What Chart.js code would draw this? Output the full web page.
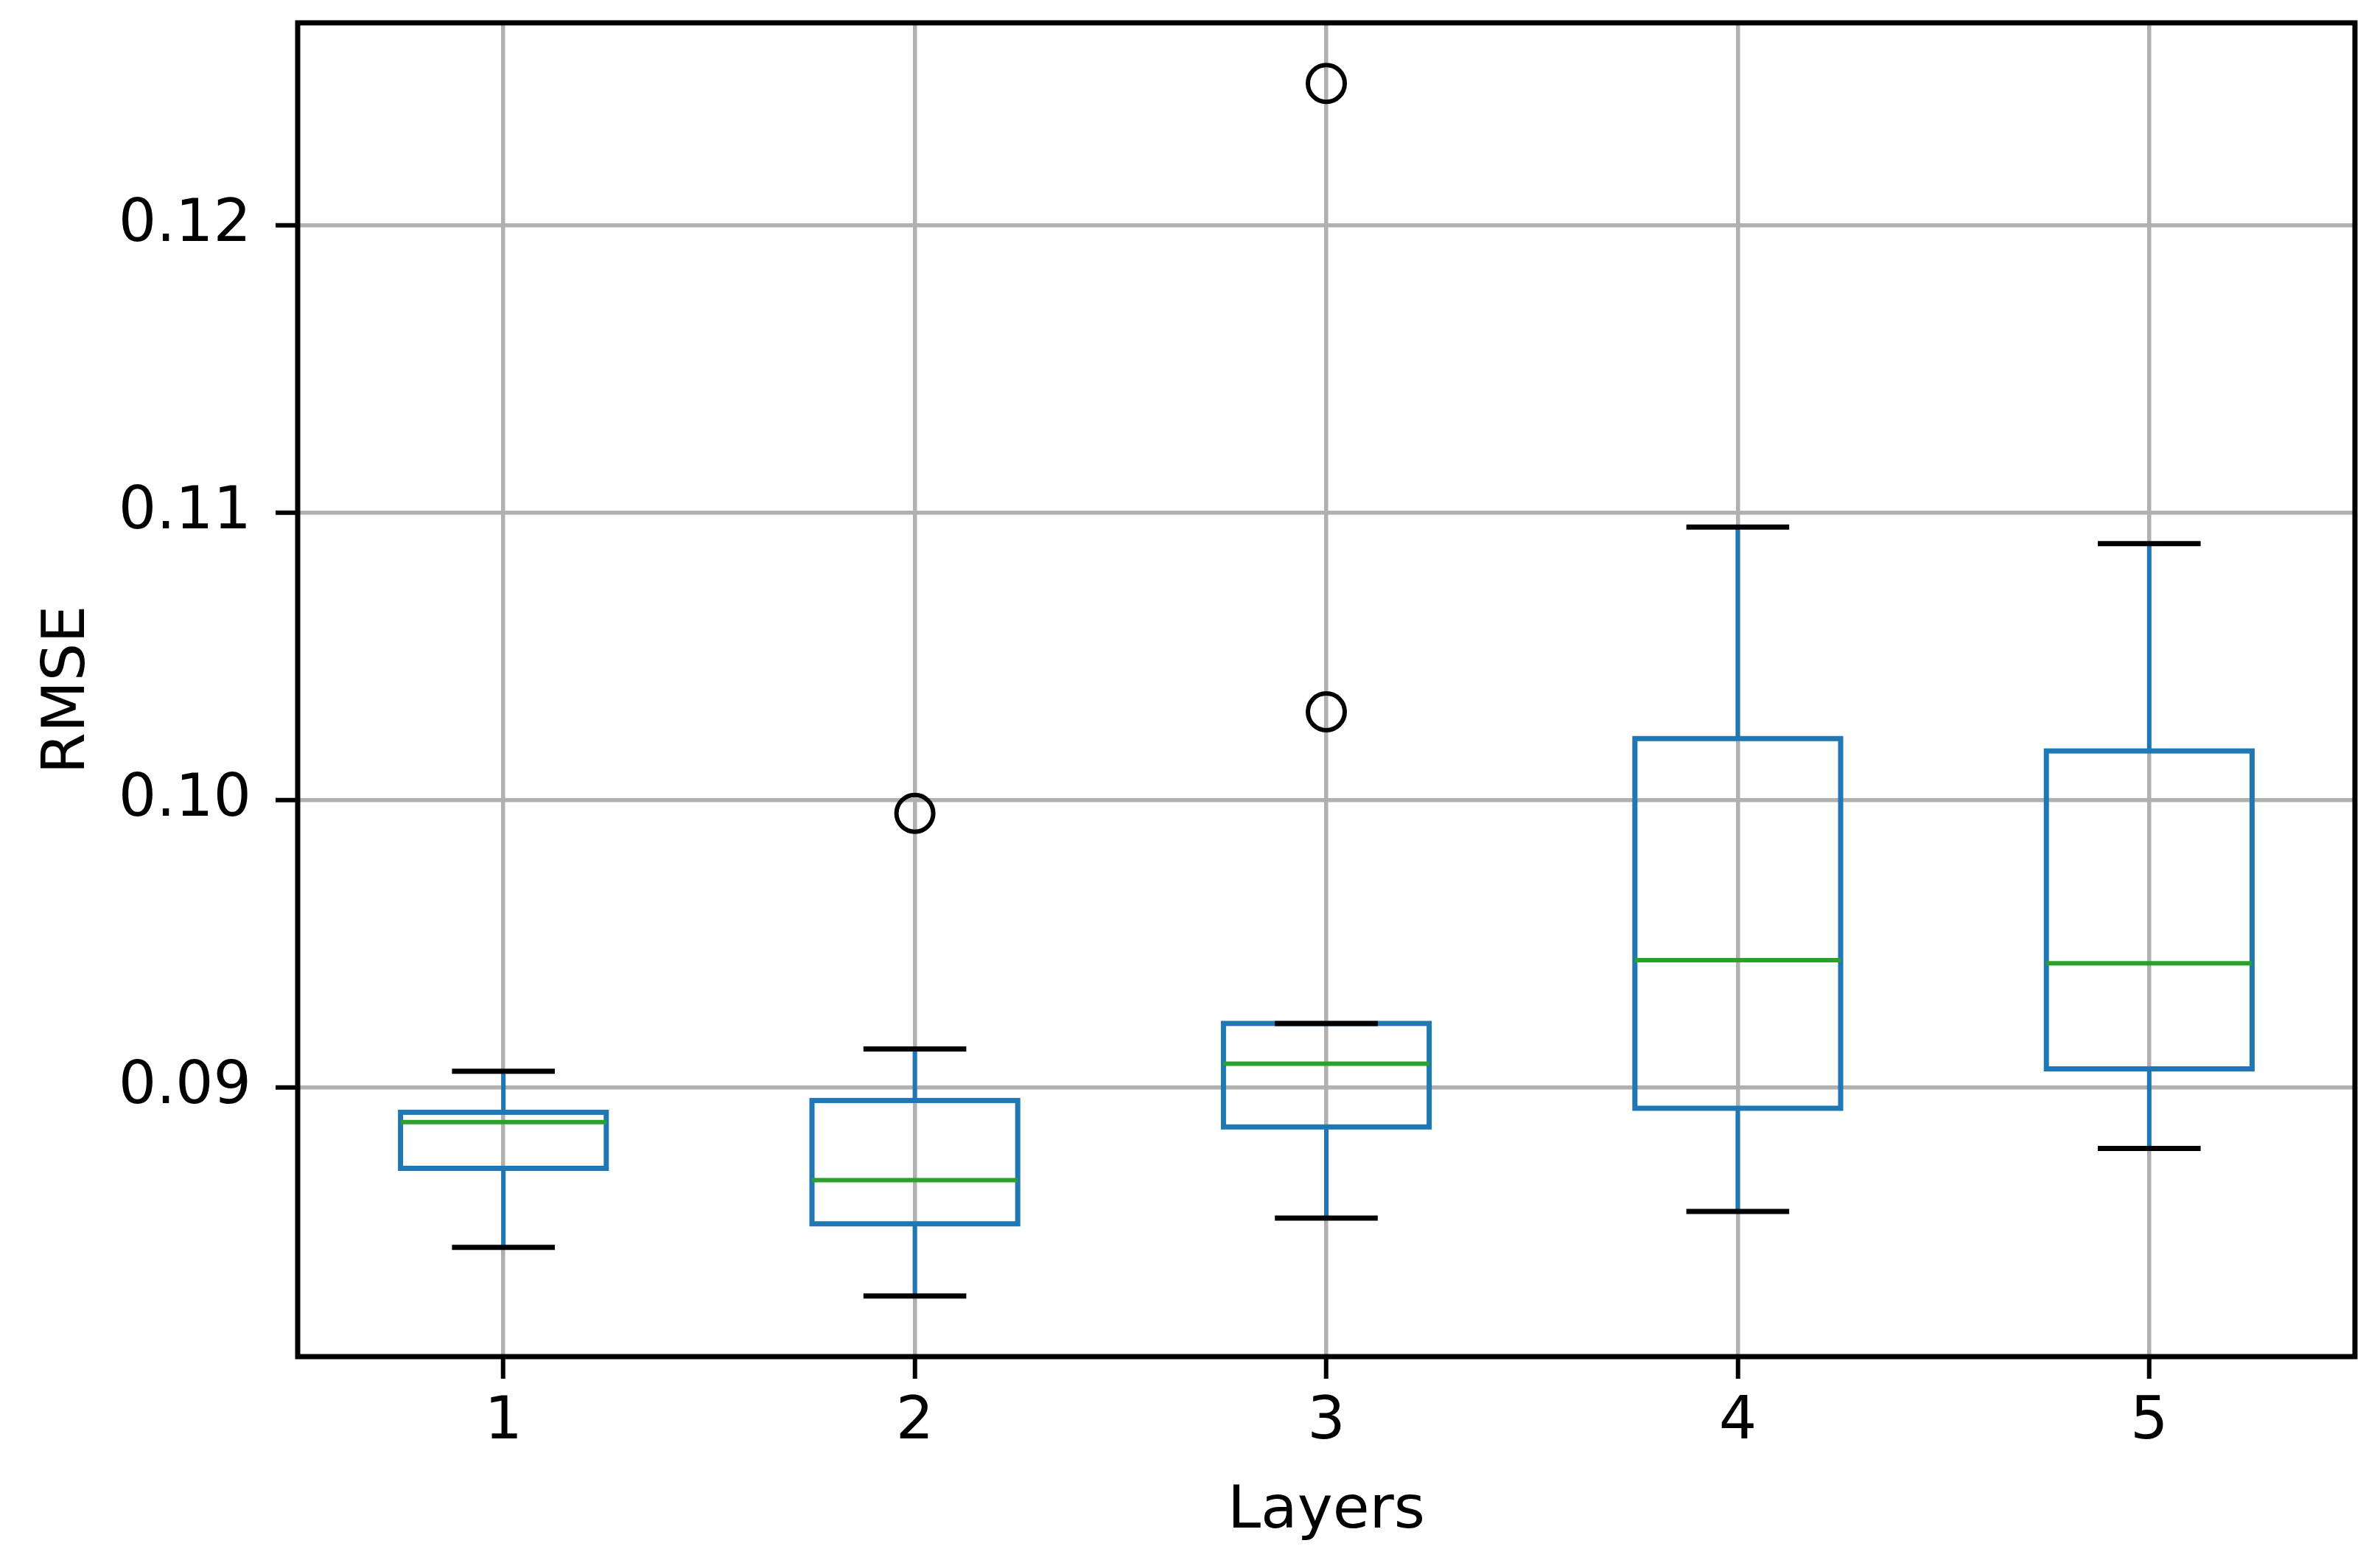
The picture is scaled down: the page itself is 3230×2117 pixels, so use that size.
<!DOCTYPE html>
<html>
<head>
<meta charset="utf-8">
<title>RMSE by layers</title>
<script src="https://cdn.jsdelivr.net/npm/chart.js@4/dist/chart.umd.min.js"></script>
<style>
  html, body { margin: 0; padding: 0; background: #fff; }
  #wrap { width: 3230px; height: 2117px; }
</style>
</head>
<body>
<div id="wrap"><canvas id="boxChart" width="3230" height="2117"></canvas></div>
<script>
// box plot stats
const layers    = [1, 2, 3, 4, 5];
const whiskLow  = [0.08444, 0.08275, 0.08546, 0.08569, 0.08788];
const q1        = [0.08719, 0.08526, 0.08863, 0.08928, 0.09065];
const medians   = [0.08880, 0.08678, 0.09083, 0.09443, 0.09432];
const q3        = [0.08914, 0.08955, 0.09223, 0.10214, 0.10171];
const whiskHigh = [0.09057, 0.09134, 0.09223, 0.10950, 0.10892];

const outlierX = [2, 3, 3];
const outlierY = [0.09954, 0.10307, 0.12493];

const yTicks = [0.09, 0.10, 0.11, 0.12];

const BLUE  = '#1f77b4';
const GREEN = '#2ca02c';
const FONT  = { family: 'DejaVu Sans', size: 81 };

// draws boxes, whiskers, caps and medians from the arrays above
const boxPlot = {
  id: 'boxPlot',
  beforeDatasetsDraw(chart) {
    const { ctx, scales: { x, y } } = chart;
    ctx.save();
    ctx.lineCap = 'butt';
    layers.forEach((l, i) => {
      const cx  = x.getPixelForValue(l);
      const bl  = x.getPixelForValue(l - 0.25);
      const br  = x.getPixelForValue(l + 0.25);
      const cl  = x.getPixelForValue(l - 0.125);
      const cr  = x.getPixelForValue(l + 0.125);
      const yLo = y.getPixelForValue(whiskLow[i]);
      const yQ1 = y.getPixelForValue(q1[i]);
      const yMd = y.getPixelForValue(medians[i]);
      const yQ3 = y.getPixelForValue(q3[i]);
      const yHi = y.getPixelForValue(whiskHigh[i]);

      // whiskers
      ctx.strokeStyle = BLUE;
      ctx.lineWidth = 6;
      ctx.beginPath();
      ctx.moveTo(cx, yQ1); ctx.lineTo(cx, yLo);
      ctx.moveTo(cx, yQ3); ctx.lineTo(cx, yHi);
      ctx.stroke();

      // box
      ctx.lineWidth = 7;
      ctx.lineJoin = 'miter';
      ctx.strokeRect(bl, yQ3, br - bl, yQ1 - yQ3);

      // median
      ctx.strokeStyle = GREEN;
      ctx.lineWidth = 6;
      ctx.beginPath();
      ctx.moveTo(bl, yMd); ctx.lineTo(br, yMd);
      ctx.stroke();

      // caps
      ctx.strokeStyle = '#000';
      ctx.lineWidth = 7;
      ctx.beginPath();
      ctx.moveTo(cl, yLo); ctx.lineTo(cr, yLo);
      ctx.moveTo(cl, yHi); ctx.lineTo(cr, yHi);
      ctx.stroke();
    });
    ctx.restore();
  },
  afterDraw(chart) {
    const { ctx, chartArea: a } = chart;
    ctx.save();
    ctx.strokeStyle = '#000';
    ctx.lineWidth = 7;
    ctx.strokeRect(a.left, a.top, a.right - a.left, a.bottom - a.top);
    ctx.restore();
  }
};

const ctx = document.getElementById('boxChart').getContext('2d');
new Chart(ctx, {
  type: 'scatter',
  data: {
    datasets: [{
      label: 'outliers',
      data: outlierX.map((v, i) => ({ x: v, y: outlierY[i] })),
      pointStyle: 'circle',
      pointRadius: 25,
      pointHoverRadius: 25,
      borderWidth: 6,
      borderColor: '#000',
      backgroundColor: 'rgba(0,0,0,0)',
    }]
  },
  options: {
    responsive: false,
    animation: false,
    devicePixelRatio: 1,
    layout: { padding: { left: 0, top: 31, right: 34, bottom: 0 } },
    plugins: {
      legend: { display: false },
      tooltip: { enabled: false }
    },
    scales: {
      x: {
        type: 'linear',
        min: 0.5,
        max: 5.5,
        afterBuildTicks: s => { s.ticks = layers.map(v => ({ value: v })); },
        afterFit: s => { s.height = 276; s.paddingLeft = 0; s.paddingRight = 0; },
        border: { display: false },
        grid: { color: '#b0b0b0', lineWidth: 5.5, tickColor: '#000', tickWidth: 6, tickLength: 30 },
        ticks: { color: '#000', font: FONT, padding: 11, maxRotation: 0, callback: v => String(v) },
        title: { display: true, text: 'Layers', color: '#000', font: FONT, padding: { top: 0, bottom: 16 } }
      },
      y: {
        type: 'linear',
        min: 0.08064,
        max: 0.12704,
        afterBuildTicks: s => { s.ticks = yTicks.map(v => ({ value: v })); },
        afterFit: s => { s.width = 404; s.paddingTop = 0; s.paddingBottom = 0; },
        border: { display: false },
        grid: { color: '#b0b0b0', lineWidth: 5.5, tickColor: '#000', tickWidth: 6, tickLength: 30 },
        ticks: { color: '#000', font: FONT, padding: 33, callback: v => v.toFixed(2) },
        title: { display: true, text: 'RMSE', color: '#000', font: FONT, padding: { top: 44, bottom: 0 } }
      }
    }
  },
  plugins: [boxPlot]
});
</script>
</body>
</html>
